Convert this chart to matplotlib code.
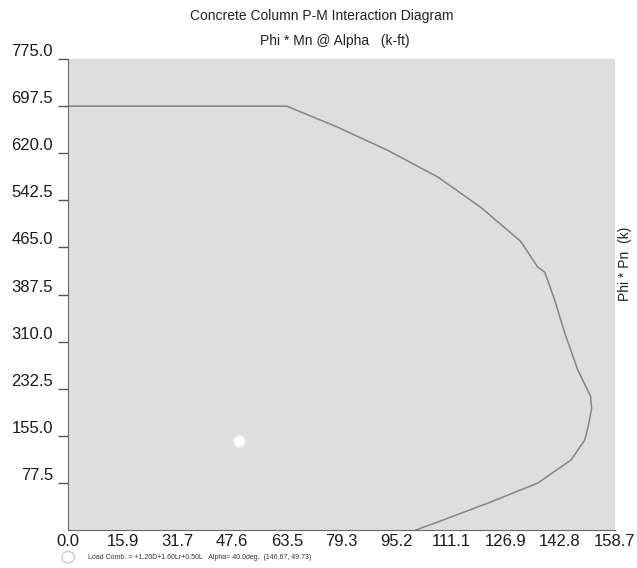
import matplotlib.pyplot as plt

# Interaction curve (moment k-ft, axial k)
phi_mn = [0.0, 63.5, 78.2, 92.7, 107.3, 119.8, 131.4, 136.3, 138.4, 141.3,
          144.2, 148.0, 149.4, 151.7, 152.0, 151.0, 150.0, 146.0, 136.3,
          121.8, 107.3, 101.0]
phi_pn = [697.5, 697.5, 663, 625, 581, 531, 475, 433, 424, 378,
          324, 263, 247, 220, 200, 170, 148, 115, 77,
          44, 13, 0]

# load combination point
load_m = [49.73]
load_p = [146.67]

x_ticks = [0.0, 15.9, 31.7, 47.6, 63.5, 79.3, 95.2, 111.1, 126.9, 142.8, 158.7]
y_ticks = [77.5, 155.0, 232.5, 310.0, 387.5, 465.0, 542.5, 620.0, 697.5, 775.0]

plt.rcParams["font.family"] = ["Liberation Sans", "DejaVu Sans"]

fig = plt.figure(figsize=(6.37, 5.68), dpi=100)
ax = fig.add_axes([0.107, 0.067, 0.858, 0.829])
ax.set_facecolor("#dedede")

ax.plot(phi_mn, phi_pn, color="#858585", linewidth=1.1)
ax.scatter(load_m, load_p, s=75, color="white", edgecolor="#e8e8e8",
           linewidth=1, zorder=3)

ax.set_xlim(0, 158.7)
ax.set_ylim(0, 775)

ax.set_xticks(x_ticks)
ax.set_xticklabels([f"{v:.1f}" for v in x_ticks], fontsize=12, color="#1a1a1a")
ax.tick_params(axis="x", length=0, pad=3)

ax.set_yticks(y_ticks)
ax.set_yticklabels([f"{v:.1f}" for v in y_ticks], fontsize=12, color="#1a1a1a")
ax.tick_params(axis="y", length=7, width=1, color="#555555", pad=4)
for lbl in ax.get_yticklabels():
    lbl.set_verticalalignment("bottom")

for side in ["top", "right"]:
    ax.spines[side].set_visible(False)
ax.spines["left"].set_color("#6a6a6a")
ax.spines["bottom"].set_color("#6a6a6a")

fig.text(0.505, 0.972, "Concrete Column P-M Interaction Diagram",
         ha="center", va="center", fontsize=10, color="#222222")
fig.text(0.525, 0.928, "Phi * Mn @ Alpha   (k-ft)",
         ha="center", va="center", fontsize=10, color="#222222")
fig.text(0.981, 0.535, "Phi * Pn  (k)", rotation=90,
         ha="center", va="center", fontsize=10, color="#222222")

# footer legend line
fig.patches.append(plt.Circle((0.107, 0.019), 0.01, transform=fig.transFigure,
                              facecolor="white", edgecolor="#cccccc", linewidth=1))
fig.text(0.138, 0.019,
         "Load Comb. = +1.20D+1.60Lr+0.50L   Alpha= 40.0deg.  (146.67, 49.73)",
         ha="left", va="center", fontsize=5, color="#333333")

fig.savefig("out.png", dpi=100)
